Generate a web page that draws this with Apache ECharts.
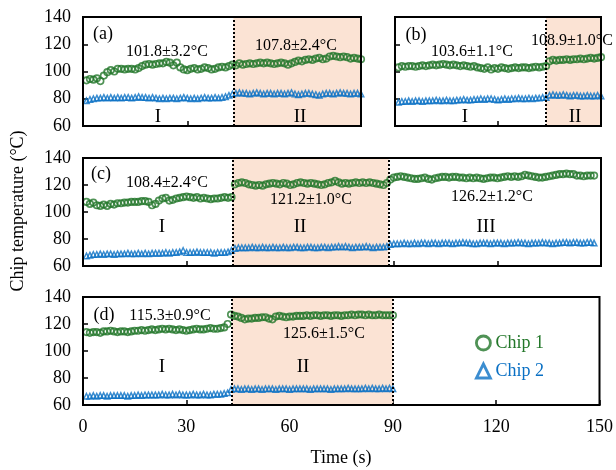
<!DOCTYPE html>
<html>
<head>
<meta charset="utf-8">
<title>Chip temperature</title>
<script src="https://cdn.jsdelivr.net/npm/echarts@6/dist/echarts.min.js"></script>
</head>
<body style="margin:0;padding:0">
<div id="main" style="width:616px;height:470px"></div>
<script>
// sampled once per second, t = 1, 2, 3 ...
var aChip1 = [93.5, 94.5, 94, 95, 93, 97, 99.5, 101, 100, 102, 102, 101.5, 102, 102, 101.5,
  102.5, 104, 105, 105.5, 105, 105.5, 106, 106, 107, 106.5, 104.5, 106.5, 103, 101.5, 101,
  102, 102.5, 101.5, 102, 103, 102.5, 101.5, 102, 103, 103.5, 103, 104, 105,
  104.5, 106, 105, 105.5, 106, 105.5, 106, 106.5, 106, 106.5, 106, 105.5, 106, 106.5, 106,
  105, 106, 107, 108, 107.5, 108.5, 109, 108.5, 109.5, 110, 109, 109.5, 111, 111.5, 111,
  110.5, 111, 110.5, 109.5, 110, 109.5, 109];
var aChip2 = [78.5, 79.5, 80, 80.5, 80.5, 81, 80.5, 81, 80.5, 81,
  80.5, 81, 81, 80.5, 81, 81.5, 81, 81, 80.5, 81,
  80.5, 80, 80.5, 80, 80.5, 80.5, 80, 80.5, 81, 80.5,
  80, 80.5, 80, 80.5, 81, 80.5, 80.5, 81, 80.5, 81,
  81.5, 82.5, 83.5,
  84, 84.5, 84, 84, 83.5, 84, 84.5, 84, 83.5, 84,
  84, 83.5, 84, 84, 83.5, 84, 84.5, 83.5, 83, 83.5,
  84, 84, 83.5, 83, 82.5, 83.5, 84, 84, 83.5, 84,
  84.5, 84, 84, 83.5, 84, 84, 83.5];

var bChip1 = [103, 104, 103.5, 104, 104, 103.5, 104, 104.5, 104, 104.5,
  105, 104.5, 105, 105.5, 105, 104.5, 105, 104.5, 104, 104.5,
  104, 103.5, 104, 103, 102.5, 102, 103, 101.5, 102.5, 102,
  103, 102.5, 102, 102.5, 103, 102.5, 103, 103, 102.5, 103,
  103.5, 103, 103.5, 104,
  107.5, 108.5, 108, 108.5, 108.5, 109, 108.5, 109, 109, 109.5, 109, 109.5, 110, 109.5, 110, 110.5];
var bChip2 = [77.5, 78, 78, 78.5, 78, 78.5, 78.5, 78, 78.5, 78.5,
  78.5, 79, 78.5, 78.5, 79, 78.5, 78.5, 79, 79, 79.5,
  79, 79, 79.5, 79.5, 80, 79.5, 80, 80, 79.5, 79,
  79.5, 80, 79.5, 80, 80, 80.5, 80, 80, 80.5, 80,
  80.5, 80.5, 81, 81,
  82.5, 83, 82.5, 82.5, 83, 82.5, 82, 82.5, 82.5, 82, 82, 82.5, 82, 82, 82.5, 82];

var cChip1 = [107.5, 106, 107, 105, 104.5, 105.5, 104.5, 106, 105.5, 106.5,
  106.5, 107, 107, 107.5, 107.5, 107.5, 108, 108, 107.5, 105,
  106, 108.5, 110, 110.5, 108.5, 109, 110, 110.5, 111, 111.5,
  111, 110.5, 111, 110, 110.5, 110, 109.5, 110, 110, 110.5,
  111, 110.5, 111,
  120.5, 121.5, 122, 121.5, 120.5, 120, 119.5, 120, 119.5, 120.5,
  121, 121.5, 121, 120.5, 121.5, 121, 120, 120.5, 121.5, 122,
  121.5, 121, 121.5, 121, 120.5, 120, 120.5, 121.5, 122, 123,
  122, 121, 121.5, 121, 121.5, 122, 121.5, 122, 121.5, 122,
  121.5, 121, 120.5, 120, 121.5,
  124, 125.5, 126, 126.5, 126, 125.5, 125, 124.5, 124.5, 125,
  125.5, 124.5, 124, 125, 125.5, 126, 126, 125.5, 126, 126,
  125.5, 125.5, 125, 125.5, 125, 125.5, 125, 124.5, 125, 125.5,
  125.5, 125, 125.5, 126, 126.5, 126, 126.5, 126, 126.5, 127.5,
  127, 126.5, 126, 125.5, 125.5, 126, 126.5, 127, 127.5, 128,
  128, 128.5, 128, 128, 127, 127, 126.5, 127, 127, 127];
var cChip2 = [67.5, 68, 68.5, 68.5, 69, 68.5, 69, 69, 68.5, 69,
  69, 69, 69.5, 69, 69, 69.5, 69, 69.5, 69, 69.5,
  69.5, 69.5, 69.5, 70, 69.5, 70, 70, 70.5, 71.5, 70,
  70, 70, 70.5, 70, 70, 70, 70, 69.5, 70, 70,
  70, 70.5, 71.5,
  73, 73.5, 73.5, 73.5, 73.5, 74, 73.5, 73.5, 74, 73.5,
  73.5, 74, 73.5, 73.5, 74, 73.5, 73.5, 74, 74, 73.5,
  73.5, 74, 74, 73.5, 73.5, 74, 74, 73.5, 74, 74,
  74.5, 74, 74.5, 74, 73.5, 74, 74, 74, 74.5, 74,
  73.5, 74, 74, 74, 74.5,
  76, 76.5, 76.5, 76.5, 77, 76.5, 76.5, 77, 76.5, 77,
  77, 76.5, 77, 77, 76.5, 77, 77, 77, 76.5, 77,
  77, 77.5, 77, 77, 76.5, 76.5, 77, 77, 77, 76.5,
  77, 77, 77, 76.5, 77, 77, 77, 77.5, 77, 77,
  76.5, 77, 77, 77, 77.5, 77, 77, 76.5, 77, 77,
  77.5, 77.5, 77, 77.5, 77.5, 77, 77, 77.5, 77.5, 77];

var dChip1 = [114, 113.5, 114, 114, 113.5, 114.5, 114.5, 115, 114.5, 114,
  114.5, 114.5, 114, 114.5, 115, 115, 115.5, 115, 115.5, 116,
  115.5, 116, 116.5, 116, 116.5, 116, 115.5, 116, 115.5, 115,
  115.5, 116, 116.5, 116, 116, 116.5, 117, 116.5, 116.5, 117,
  117.5, 120,
  127, 126, 125.5, 124.5, 123.5, 124, 124, 124.5, 124.5, 125,
  125, 124, 123.5, 125.5, 126, 125.5, 125, 125.5, 125.5, 126,
  126, 126, 126.5, 126, 126.5, 126.5, 126, 126.5, 126.5, 126,
  126.5, 126.5, 126, 126.5, 126.5, 127, 126.5, 127, 127, 126.5,
  127, 126.5, 126.5, 127, 126.5, 126.5, 126.5, 126.5];
var dChip2 = [66.5, 66.5, 67, 66.5, 67, 67, 66.5, 67, 67, 67,
  67, 67, 66.5, 67, 67, 67.5, 67, 67.5, 67.5, 67.5,
  67.5, 67.5, 68, 67.5, 67.5, 68, 67.5, 68, 67.5, 67.5,
  67.5, 68, 67.5, 67.5, 68, 67.5, 67.5, 68, 68, 68,
  68.5, 69,
  71.5, 72, 72, 71.5, 72, 72, 71.5, 72, 72, 71.5,
  72, 72, 72, 71.5, 72, 72, 72, 71.5, 72, 72,
  72, 72, 72, 71.5, 72, 72, 72, 72, 72, 71.5,
  72, 72, 72, 72, 72.5, 72, 72, 72, 72, 72.5,
  72, 72.5, 72, 72, 72.5, 72, 72.5, 72];

var yTicks = [60, 80, 100, 120, 140];
var xTicks = [0, 30, 60, 90, 120, 150];

var FONT = 'Liberation Serif';
var GREEN = '#23772A';
var BLUE = '#0A70C4';
var SHADE = '#FBE3D4';

var panels = [
  { left: 83, top: 17, width: 278, height: 109, xMax: 80, xLab: false, yLab: true,
    shade: [43.3, 80], lines: [43.3], c1: aChip1, c2: aChip2 },
  { left: 395, top: 17, width: 206, height: 109, xMax: 60, xLab: false, yLab: false,
    shade: [44, 60], lines: [44], c1: bChip1, c2: bChip2 },
  { left: 83, top: 158, width: 518, height: 108, xMax: 150, xLab: false, yLab: true,
    shade: [43.3, 88.5], lines: [43.3, 88.5], c1: cChip1, c2: cChip2 },
  { left: 83, top: 297, width: 518, height: 108, xMax: 150, xLab: true, yLab: true,
    shade: [43.3, 90], lines: [43.3, 90], c1: dChip1, c2: dChip2 }
];

function pts(arr) {
  return arr.map(function (v, i) { return [i + 1, v]; });
}

var grids = [], xAxes = [], yAxes = [], series = [];
panels.forEach(function (p, k) {
  grids.push({ left: p.left, top: p.top, width: p.width, height: p.height,
    show: true, borderColor: '#000', borderWidth: 2, backgroundColor: 'transparent', z: 10 });
  xAxes.push({
    type: 'value', gridIndex: k, min: xTicks[0], max: p.xMax, interval: 30,
    axisLine: { lineStyle: { color: '#000', width: 2 } },
    axisTick: { inside: true, length: 5, lineStyle: { color: '#000', width: 1.5 } },
    axisLabel: { show: p.xLab, margin: 13, color: '#000', fontFamily: FONT, fontSize: 18 },
    splitLine: { show: false }
  });
  yAxes.push({
    type: 'value', gridIndex: k, min: yTicks[0], max: yTicks[yTicks.length - 1], interval: 20,
    axisLine: { lineStyle: { color: '#000', width: 2 } },
    axisTick: { inside: true, length: 5, lineStyle: { color: '#000', width: 1.5 } },
    axisLabel: { show: p.yLab, margin: 12, color: '#000', fontFamily: FONT, fontSize: 18 },
    splitLine: { show: false }
  });
  series.push({
    name: 'Chip 1', type: 'scatter', xAxisIndex: k, yAxisIndex: k,
    symbol: 'circle', symbolSize: 6.5, z: 4,
    itemStyle: { color: 'rgba(255,255,255,0)', borderColor: GREEN, borderWidth: 1.7 },
    data: pts(p.c1),
    markArea: { silent: true, itemStyle: { color: SHADE }, data: [[{ xAxis: p.shade[0] }, { xAxis: p.shade[1] }]] },
    markLine: { silent: true, symbol: ['none', 'none'], label: { show: false },
      lineStyle: { color: '#000', type: 'dotted', width: 2 },
      data: p.lines.map(function (x) { return { xAxis: x }; }) }
  });
  series.push({
    name: 'Chip 2', type: 'scatter', xAxisIndex: k, yAxisIndex: k,
    symbol: 'triangle', symbolSize: 5.5, z: 3,
    itemStyle: { color: 'rgba(255,255,255,0)', borderColor: BLUE, borderWidth: 1.5 },
    data: pts(p.c2)
  });
});

function txt(s, x, y, size, rot) {
  return { type: 'text', z: 20, x: x, y: y, rotation: rot || 0,
    style: { text: s, x: 0, y: 0, fill: '#000', font: size + 'px "' + FONT + '"',
      textAlign: 'center', textVerticalAlign: 'middle' } };
}

var notes = [
  txt('(a)', 103, 34, 18), txt('101.8±3.2°C', 167, 52, 16), txt('107.8±2.4°C', 296, 46, 16),
  txt('I', 158, 117, 19), txt('II', 300, 117, 19),
  txt('(b)', 416, 35, 18), txt('103.6±1.1°C', 472, 52, 16), txt('108.9±1.0°C', 572, 41, 16),
  txt('I', 465, 117, 19), txt('II', 575, 117, 19),
  txt('(c)', 101, 174, 18), txt('108.4±2.4°C', 167, 183, 16), txt('121.2±1.0°C', 311, 200, 16),
  txt('126.2±1.2°C', 492, 197, 16),
  txt('I', 162, 227, 19), txt('II', 300, 227, 19), txt('III', 486, 227, 19),
  txt('(d)', 104, 315, 18), txt('115.3±0.9°C', 170, 316, 16), txt('125.6±1.5°C', 324, 334, 16),
  txt('I', 162, 367, 19), txt('II', 303, 367, 19),
  txt('Time (s)', 341, 458, 18),
  txt('Chip temperature (°C)', 18, 211, 18, Math.PI / 2)
];

var chart = echarts.init(document.getElementById('main'));
chart.setOption({
  backgroundColor: '#fff',
  animation: false,
  grid: grids,
  xAxis: xAxes,
  yAxis: yAxes,
  legend: {
    orient: 'vertical', left: 470, top: 329, itemGap: 10,
    itemWidth: 14, itemHeight: 14,
    textStyle: { fontFamily: FONT, fontSize: 18 },
    data: [
      { name: 'Chip 1', icon: 'circle',
        itemStyle: { color: 'rgba(255,255,255,0)', borderColor: GREEN, borderWidth: 2.8 },
        textStyle: { color: GREEN } },
      { name: 'Chip 2', icon: 'triangle',
        itemStyle: { color: 'rgba(255,255,255,0)', borderColor: BLUE, borderWidth: 2.8 },
        textStyle: { color: BLUE } }
    ]
  },
  graphic: notes,
  series: series
});
</script>
</body>
</html>
